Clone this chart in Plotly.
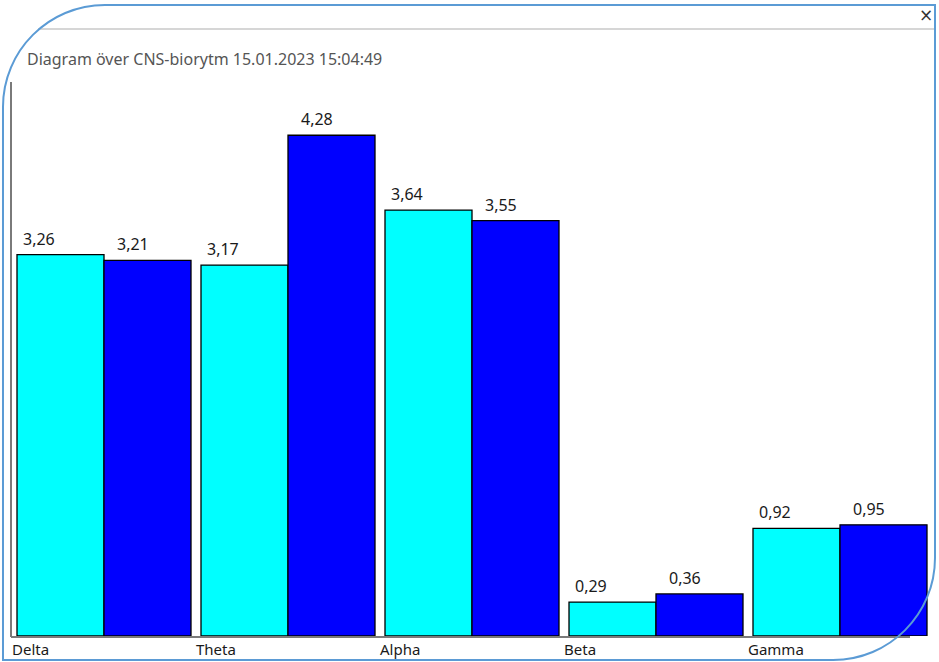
import plotly.graph_objects as go

# ---- data ----
categories = ["Delta", "Theta", "Alpha", "Beta", "Gamma"]
series_a = [3.26, 3.17, 3.64, 0.29, 0.92]   # cyan
series_b = [3.21, 4.28, 3.55, 0.36, 0.95]   # blue
title_text = "Diagram över CNS-biorytm 15.01.2023 15:04:49"

W, H = 939, 662
def px(x):
    return x / W
def py(y):
    return 1 - y / H

BARGAP = 10 / 184
CYAN = "#00FFFF"
BLUE = "#0000FF"
VAL_FONT = dict(family="Noto Sans, Liberation Sans, sans-serif", size=16, color="#1a1a1a")
CAT_FONT = dict(family="Noto Sans, Liberation Sans, sans-serif", size=15, color="#1a1a1a")

fig = go.Figure()
fig.add_trace(go.Bar(x=categories, y=series_a, marker=dict(color=CYAN, line=dict(color="#000000", width=1.3)),
                     hoverinfo="skip", name="A"))
fig.add_trace(go.Bar(x=categories, y=series_b, marker=dict(color=BLUE, line=dict(color="#000000", width=1.3)),
                     hoverinfo="skip", name="B"))

annotations = []
half = (1 - BARGAP) / 2
for i, (a, b) in enumerate(zip(series_a, series_b)):
    for val, left, shift in ((a, i - half, 4), (b, i, 11)):
        annotations.append(dict(x=left, y=val, xref="x", yref="y", text=f"{val:.2f}".replace(".", ","),
                                showarrow=False, xanchor="left", yanchor="bottom", xshift=shift, yshift=3,
                                font=VAL_FONT))
    annotations.append(dict(x=i - 0.5, y=py(649), xref="x", yref="paper", text=categories[i],
                            showarrow=False, xanchor="left", yanchor="middle", xshift=-2,
                            font=CAT_FONT))

annotations.append(dict(x=px(25), y=py(59), xref="paper", yref="paper", text=title_text,
                        showarrow=False, xanchor="left", yanchor="middle",
                        font=dict(family="Noto Sans, Open Sans, sans-serif", size=16, color="#555555")))
annotations.append(dict(x=px(926), y=py(15), xref="paper", yref="paper", text="×",
                        showarrow=False, xanchor="center", yanchor="middle",
                        font=dict(family="DejaVu Sans, sans-serif", size=17, color="#333333")))

# window border with rounded top-left and bottom-right corners
r = 102
k = 0.5523 * r
L, T, R, B = 3, 5, 935, 660
pts = [
    ("M", [(L, B)]),
    ("L", [(L, T + r)]),
    ("C", [(L, T + r - k), (L + r - k, T), (L + r, T)]),
    ("L", [(R, T)]),
    ("L", [(R, B - r)]),
    ("C", [(R, B - r + k), (R - r + k, B), (R - r, B)]),
    ("Z", []),
]
path = ""
for cmd, ps in pts:
    path += cmd + " " + " ".join(f"{px(x):.5f},{py(y):.5f}" for x, y in ps) + " "

shapes = [
    dict(type="line", xref="paper", yref="paper", x0=px(38), x1=px(935), y0=py(29), y1=py(29),
         line=dict(color="#C8C8C8", width=1.5)),
    dict(type="line", xref="paper", yref="paper", x0=px(11), x1=px(11), y0=py(82), y1=py(637),
         line=dict(color="#7A7A7A", width=2)),
    dict(type="line", xref="paper", yref="paper", x0=px(11), x1=px(910), y0=py(637), y1=py(637),
         line=dict(color="#7A7A7A", width=2)),
    dict(type="path", xref="paper", yref="paper", path=path, line=dict(color="#5B9BD5", width=2),
         fillcolor="rgba(0,0,0,0)"),
]

fig.update_layout(
    width=W, height=H,
    margin=dict(l=0, r=0, t=0, b=0),
    paper_bgcolor="white", plot_bgcolor="white",
    barmode="group", bargap=BARGAP, bargroupgap=0,
    showlegend=False,
    xaxis=dict(domain=[px(12), px(932)], showticklabels=False, showgrid=False, zeroline=False,
               showline=False, ticks="", range=[-0.5, 4.5], fixedrange=True),
    yaxis=dict(domain=[py(636), py(80)], range=[0, 556 / 117], showticklabels=False, showgrid=False,
               zeroline=False, showline=False, ticks="", fixedrange=True),
    annotations=annotations,
    shapes=shapes,
    hovermode=False,
)

fig.write_html("out.html", config={"displayModeBar": False},
               post_script="document.body.style.margin='0';document.body.style.overflow='hidden';")
